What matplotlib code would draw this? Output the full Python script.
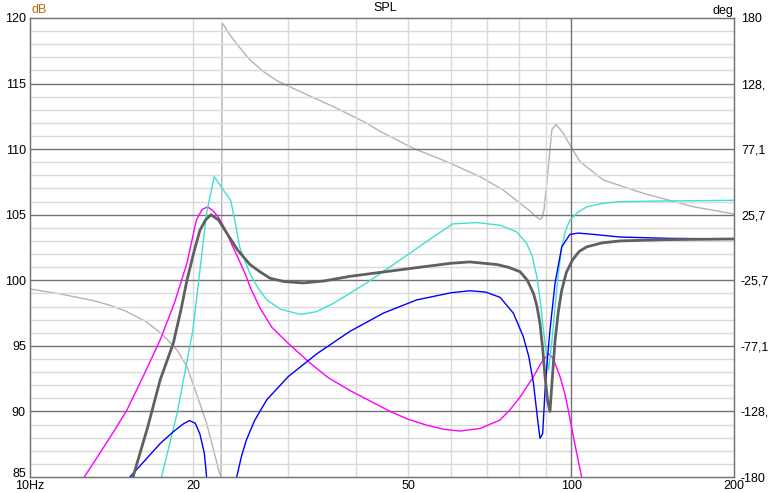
import numpy as np
import matplotlib
matplotlib.use('Agg')
import matplotlib.pyplot as plt
import matplotlib.transforms as mtransforms

plt.rcParams['font.family'] = ['Liberation Sans', 'DejaVu Sans']

# total SPL (thick dark gray)
total_f = [15.5, 16.5, 17.4, 18.4, 19.0, 19.5, 20.1, 20.6, 21.1, 21.6, 22.3, 23.1, 24.2, 25.5, 26.6,
           27.8, 29.5, 32, 35, 39, 48.3, 60, 65, 72.9, 76.5, 80.5, 83, 85.2, 86.5, 87.6, 88.6, 89.5,
           90.5, 91.4, 92.3, 93.4, 94.7, 96.1, 98, 100.6, 103.5, 106.9, 114, 123, 150, 200]
total_db = [85, 88.8, 92.4, 95.2, 97.7, 100.0, 102.2, 103.8, 104.6, 105.0, 104.6, 103.6, 102.3, 101.2, 100.65,
            100.15, 99.9, 99.8, 99.95, 100.3, 100.8, 101.3, 101.4, 101.2, 101.0, 100.65, 100.0, 99.0, 98.0, 96.7,
            94.8, 92.65, 90.8, 90.0, 92.5, 95.4, 97.6, 99.25, 100.6, 101.55, 102.2, 102.55, 102.85, 103.0,
            103.1, 103.15]

# magenta
mag_f = [12.6, 13.5, 14.3, 15.1, 16.2, 17.4, 18.5, 19.5, 20.3, 20.8, 21.3, 21.8, 22.3, 22.8, 23.5,
         24.3, 25.1, 25.5, 26.6, 28, 30, 32.9, 35.5, 39, 42.5, 46.3, 50, 54.1, 58, 62.3, 67.9, 73.9,
         77, 80.5, 85.2, 88, 90.8, 92.5, 95.4, 97.3, 98.8, 101.5, 104.6]
mag_db = [85, 86.9, 88.5, 90.1, 92.7, 95.45, 98.3, 101.3, 104.6, 105.4, 105.6, 105.3, 104.8, 104.1, 102.9,
          101.6, 100.3, 99.5, 97.9, 96.4, 95.2, 93.7, 92.6, 91.6, 90.8, 90.0, 89.4, 88.95, 88.65, 88.5, 88.7, 89.35,
          90.1, 91.1, 92.65, 93.7, 94.4, 94.1, 92.65, 91.4, 90.1, 87.6, 85.0]

# turquoise
cyan_f = [17.5, 18.7, 20, 21.2, 21.9, 23.5, 24.0, 24.4, 25.0, 25.5, 26.4, 27.4, 29, 31.6, 33.8,
          36.4, 41.9, 48.3, 55.6, 60.4, 66.9, 73.9, 79.3, 82.8, 84.8, 86.4, 87.6, 88.6, 89.8, 90.9,
          92.1, 93.4, 94.7, 96.1, 97.7, 99.5, 103, 106.9, 114, 123, 150, 200]
cyan_db = [85, 89.85, 96.2, 105.1, 107.9, 106.07, 104.2, 102.56, 101.4, 100.5, 99.4, 98.5, 97.8, 97.4, 97.6,
           98.25, 99.8, 101.55, 103.3, 104.3, 104.4, 104.2, 103.7, 102.8, 101.8, 100.3, 98.6, 96.7, 94.7, 93.15,
           95.3, 98.0, 100.5, 102.55, 103.8, 104.6, 105.2, 105.6, 105.85, 106.0, 106.05, 106.1]

# blue, two pieces
blue1_f = [15.3, 17.4, 18.4, 19.2, 19.7, 20.2, 20.6, 21.0, 21.2]
blue1_db = [85, 87.55, 88.45, 89.05, 89.3, 89.1, 88.3, 86.8, 85]
blue2_f = [24.1, 24.6, 25.1, 26.0, 27.4, 30, 33.9, 39, 45, 51.8, 60, 65, 69.5, 73.9, 78.2, 81.6,
           83.5, 85.2, 86.6, 87.6, 88.6, 89.5, 90.4, 91.4, 93.4, 96.1, 99.5, 103.1, 110, 123, 150, 200]
blue2_db = [85, 86.6, 87.8, 89.3, 90.9, 92.65, 94.4, 96.1, 97.5, 98.5, 99.05, 99.2, 99.1, 98.7, 97.5, 95.7,
            94.2, 92.15, 89.6, 87.95, 88.3, 91.6, 94.0, 96.2, 99.8, 102.55, 103.5, 103.6, 103.5, 103.3, 103.2, 103.15]

# phase (light gray, right axis, degrees)
phase_f = [10, 11.4, 13.1, 14.1, 15.1, 16.4, 17.6, 18.7, 19.5, 20.3, 21.2, 22.4, 22.55, 22.65, 22.8,
           23.3, 23.8, 24.6, 25.5, 27, 28.6, 31.6, 36.4, 41.9, 44.4, 51.1, 58.9, 67.9, 74.9, 80.5,
           84, 86, 87.6, 88.4, 89.1, 90.8, 92.1, 93.8, 96.7, 100.6, 103.9, 114.7, 136, 168, 200]
phase_deg = [-32.5, -36.5, -41.7, -45.5, -50.3, -58.2, -68.6, -80.4, -93.5, -114.4, -137.9, -177.1, -180, 176, 174.5,
             168, 162.7, 155, 147.1, 138, 130.8, 122.2, 110.4, 97.5, 91.0, 77.8, 67.3, 55.5, 45.1, 34.7,
             28.5, 24.5, 22.1, 23.5, 29.4, 63.4, 92.2, 96.6, 89.6, 77, 67.3, 52.9, 42.5, 32, 26.3]

x_ticks = [10, 20, 50, 100, 200]
x_labels = ['10Hz', '20', '50', '100', '200']
db_ticks = [85, 90, 95, 100, 105, 110, 115, 120]
deg_labels = ['-180', '-128,', '-77,1', '-25,7', '25,7', '77,1', '128,', '180']

W, H = 772, 493
fig = plt.figure(figsize=(W / 100, H / 100), dpi=100)
ax = fig.add_axes([30 / W, (H - 477) / H, (734 - 30) / W, (477 - 18) / H])
ax.set_xscale('log')
ax.set_xlim(10, 200)
ax.set_ylim(85, 120)

# grid
minor_c = '#d9d9d9'
major_c = '#737373'
for y in range(86, 120):
    if y % 5:
        ax.axhline(y, color=minor_c, lw=1, zorder=0)
for y in range(90, 120, 5):
    ax.axhline(y, color=major_c, lw=1, zorder=0.5)
for x in [20, 30, 40, 50, 60, 70, 80, 90]:
    ax.axvline(x, color=minor_c, lw=1, zorder=0)
ax.axvline(100, color=major_c, lw=1, zorder=0.5)

ax.set_xticks(x_ticks)
ax.set_xticklabels(x_labels)
ax.xaxis.set_minor_locator(matplotlib.ticker.NullLocator())
ax.set_yticks(db_ticks)
ax.tick_params(length=0, labelsize=9, colors='black')
ax.tick_params(axis='x', pad=2)
ax.tick_params(axis='y', pad=3)
for s in ax.spines.values():
    s.set_color(major_c)
    s.set_linewidth(1)

ax2 = ax.twinx()
ax2.set_ylim(-180, 180)
ax2.set_yticks(np.linspace(-180, 180, 8))
ax2.set_yticklabels(deg_labels)
ax2.tick_params(length=0, labelsize=9, pad=5)
for s in ax2.spines.values():
    s.set_color(major_c)

ax2.plot(phase_f, phase_deg, color='#b3b3b3', lw=1, zorder=1)

ax.plot(mag_f, mag_db, color='#ff00ff', lw=1, zorder=2)
ax.plot(cyan_f, cyan_db, color='#40e0d0', lw=1, zorder=2)
ax.plot(blue1_f, blue1_db, color='#0000ff', lw=1, zorder=2)
ax.plot(blue2_f, blue2_db, color='#0000ff', lw=1, zorder=2)
ax.plot(total_f, total_db, color='#606060', lw=2, zorder=3, solid_joinstyle='round')
ax.set_zorder(ax2.get_zorder() + 1)
ax.patch.set_visible(False)

# lift the lowest dB label a little so it clears the "10Hz" label
fig.canvas.draw()
lift = mtransforms.ScaledTranslation(0, 4 / 100, fig.dpi_scale_trans)
low_lbl = ax.get_yticklabels()[0]
low_lbl.set_transform(low_lbl.get_transform() + lift)

fig.text(32 / W, 1 - 10 / H, 'dB', fontsize=9, color='#c06a00', va='center', ha='left')
fig.text(733 / W, 1 - 11 / H, 'deg', fontsize=9, color='black', va='center', ha='right')
fig.text(385 / W, 1 - 8 / H, 'SPL', fontsize=9, color='black', va='center', ha='center')

fig.savefig('out.png', dpi=100, facecolor='white')
